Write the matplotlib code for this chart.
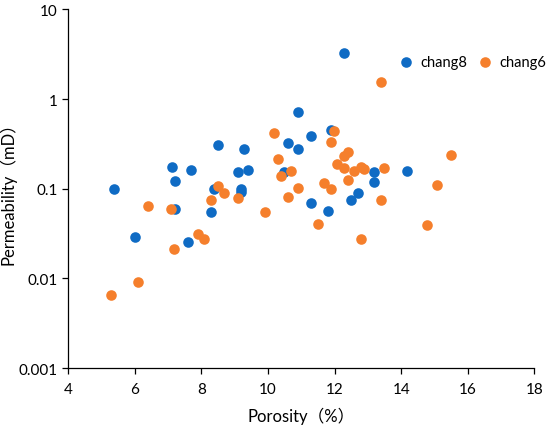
import matplotlib
matplotlib.use("Agg")
import matplotlib.pyplot as plt
from matplotlib.ticker import FixedLocator, FuncFormatter, NullLocator

plt.rcParams['font.family'] = ['Lato', 'Noto Sans CJK SC', 'DejaVu Sans']

# chang8 samples
chang8_por = [5.38, 5.99, 7.11, 7.20, 7.20, 7.70, 7.59, 8.29, 8.38, 8.50,
              9.10, 9.29, 9.40, 9.20, 9.20, 10.48, 10.59, 10.89, 10.89,
              12.29, 11.29, 11.88, 13.18, 13.18, 14.18, 12.69, 12.49,
              11.29, 11.79]
chang8_perm = [0.100, 0.029, 0.175, 0.121, 0.059, 0.162, 0.0252, 0.0556, 0.099, 0.31,
               0.155, 0.28, 0.162, 0.099, 0.091, 0.154, 0.325, 0.71, 0.28,
               3.3, 0.39, 0.45, 0.154, 0.119, 0.156, 0.090, 0.074,
               0.069, 0.057]

# chang6 samples
chang6_por = [5.28, 6.09, 6.38, 7.09, 7.19, 7.89, 8.09, 8.29, 8.50, 8.69,
              9.10, 9.90, 10.19, 10.29, 10.39, 10.69, 10.89, 10.59,
              13.38, 11.98, 11.88, 12.39, 12.29, 12.08, 12.29, 12.59,
              12.79, 12.89, 13.49, 12.39, 15.50, 15.09, 11.69, 11.89,
              13.38, 11.49, 14.78, 12.78]
chang6_perm = [0.0066, 0.0091, 0.065, 0.059, 0.021, 0.031, 0.0273, 0.075, 0.106, 0.089,
               0.078, 0.0556, 0.42, 0.214, 0.138, 0.157, 0.102, 0.080,
               1.56, 0.44, 0.333, 0.254, 0.229, 0.19, 0.172, 0.158,
               0.175, 0.168, 0.171, 0.126, 0.235, 0.110, 0.115, 0.0995,
               0.0757, 0.040, 0.039, 0.0273]

fig = plt.figure(figsize=(5.5, 4.35), dpi=100)
ax = fig.add_axes([0.1242, 0.1517, 0.8473, 0.8242])

ax.scatter(chang8_por, chang8_perm, s=58, color='#0F6BC4', label='chang8', zorder=3, linewidths=0)
ax.scatter(chang6_por, chang6_perm, s=58, color='#F57F2C', label='chang6', zorder=3, linewidths=0)

ax.set_yscale('log')
ax.set_xlim(4, 18)
ax.set_ylim(0.001, 10)
ax.xaxis.set_major_locator(FixedLocator([4, 6, 8, 10, 12, 14, 16, 18]))
ax.yaxis.set_major_locator(FixedLocator([0.001, 0.01, 0.1, 1, 10]))
ax.yaxis.set_minor_locator(NullLocator())
ax.yaxis.set_major_formatter(FuncFormatter(lambda v, p: '%g' % v))

for s in ['top', 'right']:
    ax.spines[s].set_visible(False)
for s in ['left', 'bottom']:
    ax.spines[s].set_color('black')
    ax.spines[s].set_linewidth(0.9)

ax.tick_params(axis='both', direction='out', length=4, width=0.9, labelsize=11, colors='black')
ax.tick_params(axis='x', pad=6)

ax.set_xlabel('Porosity（%）', fontsize=12, labelpad=8)
ax.set_ylabel('Permeability（mD）', fontsize=12)
ax.yaxis.set_label_coords(-0.112, 0.5)

ax.legend(loc='center right', bbox_to_anchor=(1.025, 0.853), ncol=2, frameon=False,
          fontsize=10.5, handletextpad=0.0, columnspacing=0.2, markerscale=1.0,
          borderaxespad=0, borderpad=0)

fig.savefig('out.png', dpi=100)
